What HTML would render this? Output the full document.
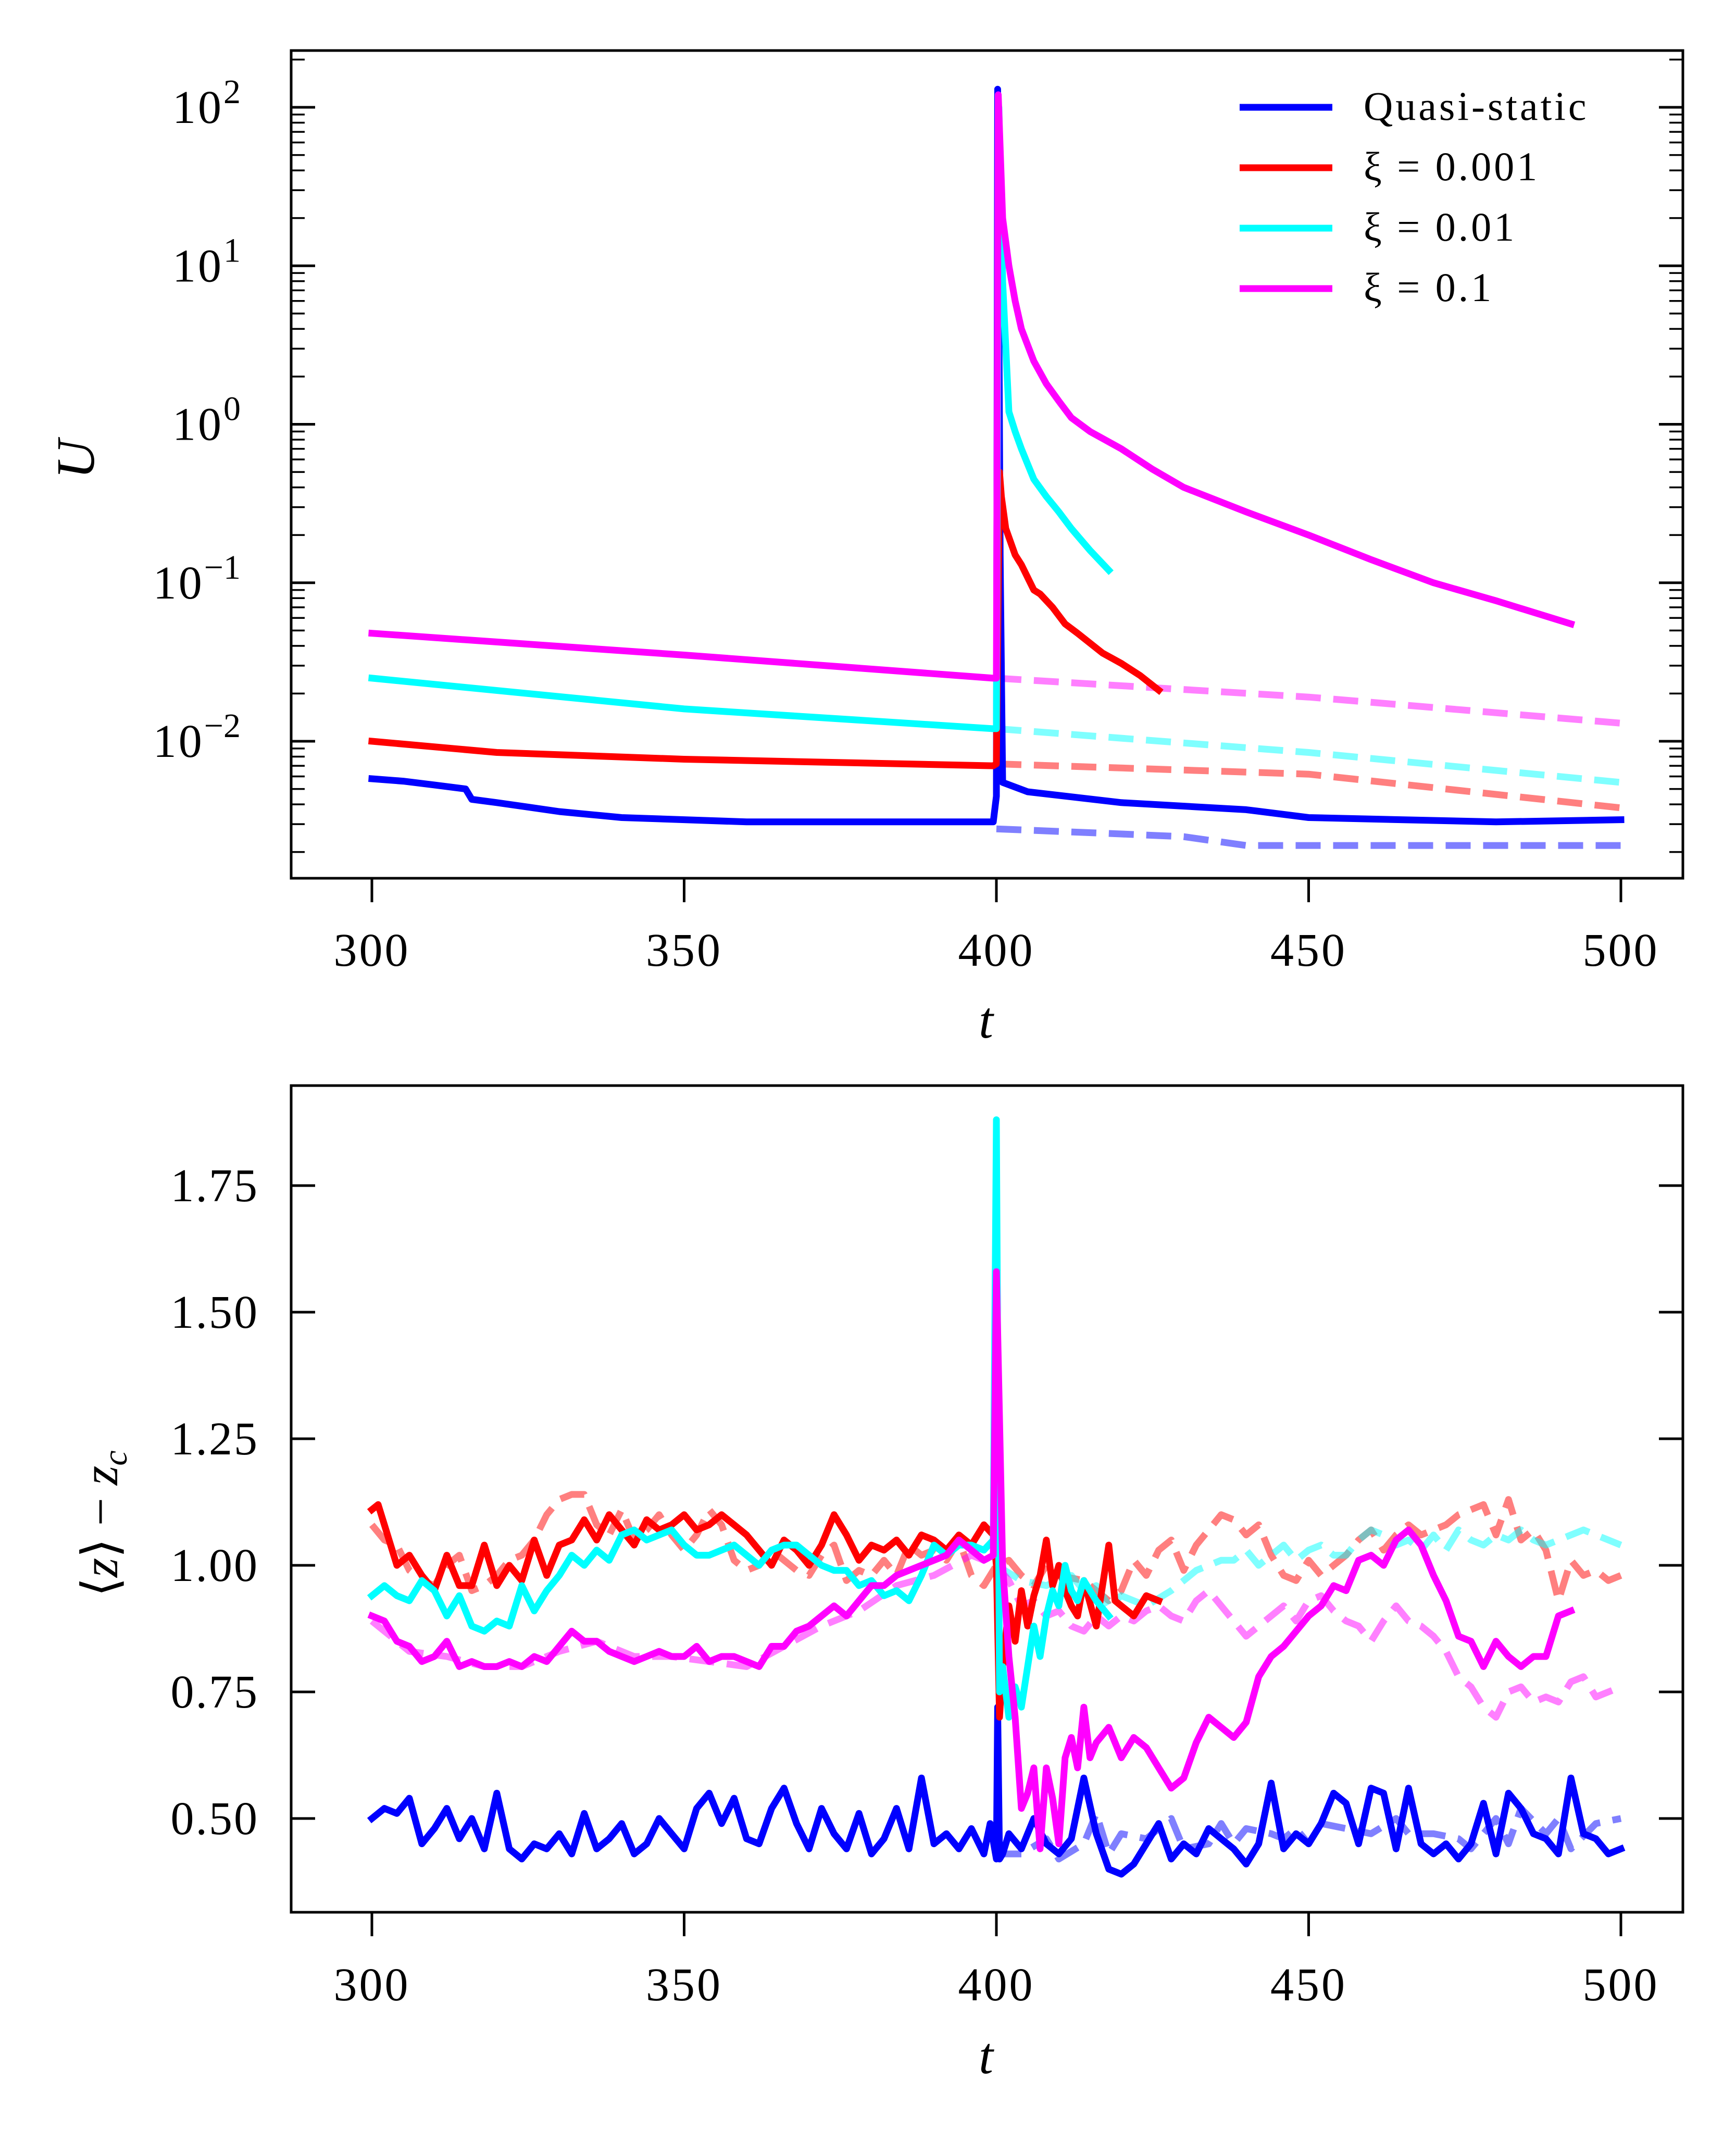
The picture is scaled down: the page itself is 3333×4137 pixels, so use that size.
<!DOCTYPE html>
<html><head><meta charset="utf-8"><style>
html,body{margin:0;padding:0;background:#fff}
svg{display:block}
text{font-family:"Liberation Serif",serif;fill:#000}
</style></head><body>
<svg id="fig" width="3333" height="4137" viewBox="0 0 3333 4137" xmlns="http://www.w3.org/2000/svg">
<rect width="3333" height="4137" fill="#fff"/>
<g id="topPanel"></g>
<g id="botPanel"></g>
</svg>
<script>
// ---- top panel data (U, log scale) ----
const qsT=[300,305,310,315,316,320,330,340,350,360,399.5,400,400.2,400.6,401,405,420,440,450,480,500];
const qsU=[0.0058,0.0056,0.0053,0.005,0.0043,0.0041,0.0036,0.0033,0.0032,0.0031,0.0031,0.0045,130,0.15,0.0055,0.0048,0.0041,0.0037,0.0033,0.0031,0.0032];
const qsDT=[400,420,430,440,500];
const qsDU=[0.0028,0.0026,0.0025,0.0022,0.0022];
const r1T=[300,320,350,399.5,400,400.5,400.8,401.5,403,404,406,407,409,411,413,417,420,423,426];
const r1U=[0.010,0.0085,0.0077,0.0070,0.0072,0.5,0.35,0.22,0.15,0.13,0.09,0.085,0.07,0.055,0.048,0.036,0.031,0.026,0.021];
const r1DT=[400,450,500];
const r1DU=[0.0072,0.0062,0.0038];
const c1T=[300,350,399.5,400,400.4,401,402,403,404,406,408,410,412,415,418];
const c1U=[0.025,0.016,0.012,0.012,100,8,1.2,0.9,0.7,0.45,0.35,0.28,0.22,0.16,0.12];
const c1DT=[400,450,500];
const c1DU=[0.012,0.0085,0.0055];
const m1T=[300,350,399.5,400,400.3,401,402,403,404,406,408,410,412,415,420,425,430,440,450,460,470,480,492];
const m1U=[0.048,0.035,0.025,0.025,120,20,10,6,4,2.5,1.8,1.4,1.1,0.9,0.7,0.52,0.4,0.28,0.2,0.14,0.1,0.077,0.055];
const m1DT=[400,450,500];
const m1DU=[0.025,0.019,0.013];
const xTicks=[300,350,400,450,500];
const logTicks=[2,1,0,-1,-2];
// ---- bottom panel data (<z>-zc) ----
const bT=[300,302,304,306,308,310,312,314,316,318,320,322,324,326,328,330,332,334,336,338,340,342,344,346,348,350,352,354,356,358,360,362,364,366,368,370,372,374,376,378,380,382,384,386,388,390,392,394,396,398,399,400,400.2,400.5,401,402,404,406,408,410,412,414,416,418,420,422,424,426,428,430,432,434,436,438,440,442,444,446,448,450,452,454,456,458,460,462,464,466,468,470,472,474,476,478,480,482,484,486,488,490,492,494,496,498,500];
const bV=[.50,.52,.51,.54,.45,.48,.52,.46,.50,.44,.55,.44,.42,.45,.44,.47,.43,.51,.44,.46,.49,.43,.45,.50,.47,.44,.52,.55,.49,.54,.46,.45,.52,.56,.49,.44,.52,.47,.44,.51,.43,.46,.52,.44,.58,.45,.47,.44,.48,.43,.49,.42,.72,.42,.43,.47,.44,.50,.45,.43,.46,.58,.47,.40,.39,.41,.45,.49,.42,.45,.43,.48,.46,.44,.41,.45,.57,.44,.47,.45,.49,.55,.53,.45,.56,.55,.44,.56,.45,.43,.45,.42,.45,.53,.43,.55,.52,.47,.46,.43,.58,.47,.46,.43,.44];
const bDT=[400,404,408,410,414,416,418,420,424,428,430,434,436,438,440,444,446,448,450,452,456,460,464,466,470,474,476,480,482,484,488,490,492,496,500];
const bDV=[.43,.43,.46,.42,.45,.51,.43,.47,.46,.50,.44,.45,.49,.45,.48,.47,.46,.48,.45,.49,.48,.47,.50,.47,.47,.46,.44,.50,.45,.52,.47,.50,.44,.49,.50];
const rT=[300,301,302,304,306,308,310,312,314,316,318,320,322,324,326,328,330,332,334,336,338,340,342,344,346,348,350,352,354,356,358,360,362,364,366,368,370,372,374,376,378,380,382,384,386,388,390,392,394,396,398,399.5,400,400.5,401,402,403,404,405,406,407,408,409,410,411,412,413,414,416,417,418,419,420,422,424,426];
const rV=[1.11,1.12,1.08,1.00,1.02,.98,.95,1.02,.96,.96,1.04,.96,1.00,.97,1.05,.98,1.04,1.05,1.09,1.05,1.10,1.07,1.04,1.09,1.07,1.08,1.10,1.07,1.08,1.10,1.08,1.06,1.03,1.00,1.05,1.03,1.00,1.04,1.10,1.06,1.01,1.04,1.03,1.05,1.02,1.06,1.05,1.03,1.06,1.04,1.08,1.06,1.00,.70,.80,.92,.85,.95,.88,.94,.98,1.05,.96,1.00,.95,.92,.90,.97,.88,.96,1.04,.93,.92,.90,.94,.93];
const rDT=[300,302,304,306,308,310,312,314,316,318,320,322,324,326,328,330,332,334,336,338,340,342,344,346,348,350,352,354,356,358,360,362,364,366,368,370,372,374,376,378,380,382,384,386,388,390,392,394,396,398,400,402,404,406,408,410,414,418,420,422,424,426,428,430,432,434,436,438,440,442,444,446,448,450,452,456,458,460,462,464,466,468,470,472,474,476,478,480,482,484,486,488,490,492,494,496,498,500];
const rDV=[1.08,1.05,1.04,.99,.97,.96,1.00,1.02,.95,.96,.98,1.01,1.02,1.05,1.10,1.13,1.14,1.14,1.08,1.06,1.11,1.05,1.07,1.10,1.06,1.03,1.06,1.11,1.08,1.01,.99,1.00,1.03,1.01,.99,.98,1.02,1.04,.97,.99,.98,1.01,.98,1.04,1.02,1.03,1.01,1.05,.98,.96,1.00,1.01,.98,.96,1.00,.98,.97,.93,.95,1.01,.98,1.03,1.05,.99,1.04,1.07,1.10,1.09,1.06,1.08,1.02,.98,.97,1.01,.98,1.02,1.05,1.07,1.03,1.06,1.08,1.06,1.07,1.08,1.10,1.11,1.12,1.06,1.13,1.05,1.07,1.03,.93,1.01,.98,.99,.97,.98];
const cT=[300,302,304,306,308,310,312,314,316,318,320,322,324,326,328,330,332,334,336,338,340,342,344,346,348,350,352,354,356,358,360,362,364,366,368,370,372,374,376,378,380,382,384,386,388,390,392,394,396,398,399.5,400,400.5,401,402,403,404,405,406,407,408,409,410,411,412,413,414,416,418];
const cV=[.94,.96,.94,.93,.97,.95,.90,.94,.88,.87,.89,.88,.96,.91,.95,.98,1.02,1.00,1.03,1.01,1.06,1.07,1.05,1.06,1.07,1.04,1.02,1.02,1.03,1.04,1.02,1.00,1.03,1.04,1.04,1.02,1.00,.99,.99,.96,.97,.94,.95,.93,.98,1.04,1.02,1.04,1.04,1.03,1.05,1.88,.75,.80,.70,.76,.72,.80,.88,.82,.90,.95,.92,1.00,.95,.93,.97,.93,.90];
const cDT=[400,404,408,412,414,416,418,420,424,428,430,432,434,436,438,440,442,444,446,448,450,452,454,456,458,460,462,464,466,468,470,472,474,476,478,480,482,484,486,488,490,492,494,496,498,500];
const cDV=[1.00,.97,.96,.98,.95,.96,.92,.94,.92,.95,.97,.99,1.00,1.01,1.01,1.03,1.00,1.02,1.04,1.01,1.03,1.04,1.02,1.02,1.05,1.07,1.06,1.04,1.05,1.03,1.06,1.03,1.07,1.05,1.04,1.06,1.05,1.07,1.05,1.04,1.05,1.06,1.07,1.06,1.05,1.04];
const mT=[300,302,304,306,308,310,312,314,316,318,320,322,324,326,328,330,332,334,336,338,340,342,344,346,348,350,352,354,356,358,360,362,364,366,368,370,372,374,376,378,380,382,384,386,388,390,392,394,396,398,399.5,400,401,402,403,404,405,406,407,408,409,410,411,412,413,414,415,416,418,420,422,424,426,428,430,432,434,436,438,440,442,444,446,448,450,452,454,456,458,460,462,464,466,468,470,472,474,476,478,480,482,484,486,488,490,492];
const mV=[.90,.89,.85,.84,.81,.82,.85,.80,.81,.80,.80,.81,.80,.82,.81,.84,.87,.85,.85,.83,.82,.81,.82,.83,.82,.82,.84,.81,.82,.82,.81,.80,.84,.84,.87,.88,.90,.92,.90,.93,.96,.96,.98,.99,1.00,1.01,1.02,1.05,1.03,1.01,1.02,1.58,1.00,.82,.70,.52,.55,.60,.44,.60,.54,.45,.62,.66,.60,.72,.62,.65,.68,.62,.66,.64,.60,.56,.58,.65,.70,.68,.66,.69,.78,.82,.84,.87,.90,.92,.96,.95,1.01,1.02,1.00,1.05,1.07,1.04,.98,.93,.86,.85,.80,.85,.82,.80,.82,.82,.90,.91];
const mDT=[300,306,312,318,324,330,336,342,348,354,360,366,372,378,384,390,396,400,402,404,406,408,410,412,414,416,418,420,422,424,426,428,430,432,434,436,438,440,442,444,446,448,450,452,454,456,458,460,462,464,466,468,470,472,474,476,478,480,482,484,486,488,490,492,494,496,498,500];
const mDV=[.89,.83,.82,.80,.80,.83,.85,.82,.82,.81,.80,.84,.88,.91,.96,.98,1.02,1.00,.97,.92,.93,.90,.91,.88,.87,.90,.88,.90,.89,.91,.92,.90,.89,.93,.95,.92,.89,.86,.88,.90,.92,.89,.93,.94,.91,.89,.88,.85,.89,.92,.89,.88,.86,.83,.78,.76,.72,.70,.75,.76,.73,.74,.73,.77,.78,.74,.75,.76];
const zTicks=[0.50,0.75,1.00,1.25,1.50,1.75];

const NS="http://www.w3.org/2000/svg";
function mk(parent,tag,attrs){const e=document.createElementNS(NS,tag);for(const k in attrs)e.setAttribute(k,attrs[k]);parent.appendChild(e);return e;}
const L=559,R=3231;
const T1=97,B1=1686,T2=2084,B2=3671;
const xs=t=>714+(t-300)*(3112-714)/200;
const ysLog=v=>206+(2-Math.log10(v))*304.25;
const ysLin=v=>3491-(v-0.5)*972;
const gTop=document.getElementById('topPanel'),gBot=document.getElementById('botPanel');

function line(g,T,V,ys,color,dashed,name){
  const d=T.map((t,i)=>(i?'L':'M')+xs(t).toFixed(1)+' '+ys(V[i]).toFixed(1)).join(' ');
  const p=mk(g,'path',{d:d,fill:'none',stroke:color,'stroke-width':13,'stroke-linejoin':'round','stroke-linecap':dashed?'butt':'square'});
  if(dashed){p.setAttribute('stroke-dasharray','48 24');p.setAttribute('stroke-opacity','0.5');}
  
  
}
function frame(g,T,B,name){
  const r=mk(g,'rect',{x:L,y:T,width:R-L,height:B-T,fill:'none',stroke:'#000','stroke-width':5});
  
  
}
function xAxis(g,B,labY,tY){
  xTicks.forEach(t=>{
    mk(g,'line',{x1:xs(t),x2:xs(t),y1:B,y2:B+46,stroke:'#000','stroke-width':5});
    const tx=mk(g,'text',{x:xs(t),y:labY,'font-size':90,'text-anchor':'middle','letter-spacing':4});tx.textContent=t;
    
    
  });
  const tl=mk(g,'text',{x:1893,y:tY,'font-size':100,'font-style':'italic','text-anchor':'middle'});tl.textContent='t';
  
  
}
// ---- top panel ----
line(gTop,qsDT,qsDU,ysLog,'#0000ff',true,'quasi-static-dashed');
line(gTop,r1DT,r1DU,ysLog,'#ff0000',true,'xi-0.001-dashed');
line(gTop,c1DT,c1DU,ysLog,'#00ffff',true,'xi-0.01-dashed');
line(gTop,m1DT,m1DU,ysLog,'#ff00ff',true,'xi-0.1-dashed');
line(gTop,qsT,qsU,ysLog,'#0000ff',false,'quasi-static-line');
line(gTop,r1T,r1U,ysLog,'#ff0000',false,'xi-0.001-line');
line(gTop,c1T,c1U,ysLog,'#00ffff',false,'xi-0.01-line');
line(gTop,m1T,m1U,ysLog,'#ff00ff',false,'xi-0.1-line');
frame(gTop,T1,B1,'energy-plot-frame');
for(let e=-3;e<=2;e++){
  for(let m=1;m<10;m++){
    const v=m*Math.pow(10,e),y=ysLog(v);
    if(y<T1||y>B1)continue;
    const len=m===1?46:26;
    mk(gTop,'line',{x1:L,x2:L+len,y1:y,y2:y,stroke:'#000','stroke-width':m===1?5:3.5});
    mk(gTop,'line',{x1:R-len,x2:R,y1:y,y2:y,stroke:'#000','stroke-width':m===1?5:3.5});
  }
}
logTicks.forEach(e=>{
  const tx=mk(gTop,'text',{x:462,y:ysLog(Math.pow(10,e))+30,'font-size':90,'text-anchor':'end'});
  
  
  const a=mk(tx,'tspan',{'letter-spacing':4});a.textContent='10';
  const b=mk(tx,'tspan',{dy:-38,'font-size':66});b.textContent=(e<0?'\u2212':'')+Math.abs(e);
});
xAxis(gTop,B1,1854,1992);
const ul=mk(gTop,'text',{x:0,y:0,'font-size':104,'font-style':'italic','text-anchor':'middle',transform:'translate(180,882) rotate(-90)'});ul.textContent='U';


const lg=mk(gTop,'g',{});


const legC=['#0000ff','#ff0000','#00ffff','#ff00ff'],legL=['Quasi-static','\u03be = 0.001','\u03be = 0.01','\u03be = 0.1'];
legC.forEach((c,i)=>{
  const y=206+i*116;
  mk(lg,'line',{x1:2380,x2:2558,y1:y,y2:y,stroke:c,'stroke-width':13});
  const tx=mk(lg,'text',{x:2618,y:y+24,'font-size':78,'letter-spacing':5});tx.textContent=legL[i];
  
  
});
// ---- bottom panel ----
line(gBot,bDT,bDV,ysLin,'#0000ff',true,'quasi-static-dashed');
line(gBot,rDT,rDV,ysLin,'#ff0000',true,'xi-0.001-dashed');
line(gBot,cDT,cDV,ysLin,'#00ffff',true,'xi-0.01-dashed');
line(gBot,mDT,mDV,ysLin,'#ff00ff',true,'xi-0.1-dashed');
line(gBot,bT,bV,ysLin,'#0000ff',false,'quasi-static-line');
line(gBot,rT,rV,ysLin,'#ff0000',false,'xi-0.001-line');
line(gBot,cT,cV,ysLin,'#00ffff',false,'xi-0.01-line');
line(gBot,mT,mV,ysLin,'#ff00ff',false,'xi-0.1-line');
frame(gBot,T2,B2,'height-plot-frame');
zTicks.forEach(v=>{
  const y=ysLin(v);
  mk(gBot,'line',{x1:L,x2:L+46,y1:y,y2:y,stroke:'#000','stroke-width':5});
  mk(gBot,'line',{x1:R-46,x2:R,y1:y,y2:y,stroke:'#000','stroke-width':5});
  const tx=mk(gBot,'text',{x:497,y:y+30,'font-size':90,'text-anchor':'end','letter-spacing':3});tx.textContent=v.toFixed(2);
  
  
});
xAxis(gBot,B2,3840,3980);
const zl=mk(gBot,'text',{x:0,y:0,'font-size':96,'text-anchor':'middle',transform:'translate(225,2925) rotate(-90)'});


const z1=mk(zl,'tspan',{});z1.textContent='\u27e8';
const z2=mk(zl,'tspan',{'font-style':'italic'});z2.textContent='z';
const z3=mk(zl,'tspan',{});z3.textContent='\u27e9 \u2212 ';
const z4=mk(zl,'tspan',{'font-style':'italic'});z4.textContent='z';
const z5=mk(zl,'tspan',{'font-style':'italic','font-size':66,dy:18});z5.textContent='c';
</script>
</body></html>
